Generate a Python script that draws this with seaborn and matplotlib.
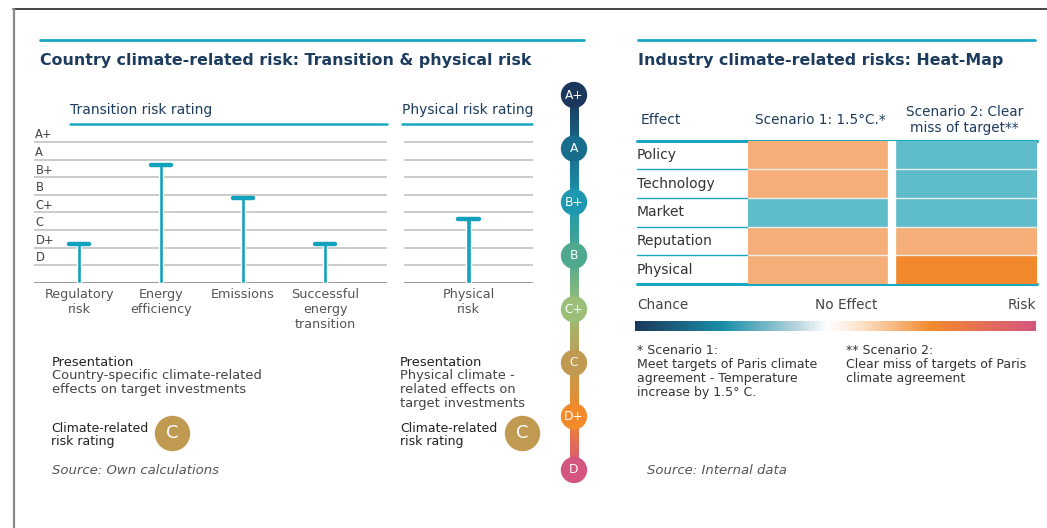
import numpy as np
import pandas as pd
import matplotlib
matplotlib.use("Agg")
import matplotlib.pyplot as plt
from matplotlib.colors import ListedColormap, BoundaryNorm, LinearSegmentedColormap, Normalize
from matplotlib.cm import ScalarMappable
import seaborn as sns

# data
ratings = ["D", "D+", "C", "C+", "B", "B+", "A", "A+"]  # low -> high
rating_colors = ["#d4557f", "#f28a2c", "#c19a52", "#9bbf78", "#4ea98e", "#1e97b0", "#186c8c", "#1b385c"]

transition_factors = ["Regulatory\nrisk", "Energy\nefficiency", "Emissions", "Successful\nenergy\ntransition"]
transition_scores = [2.2, 6.7, 4.85, 2.2]  # in rating steps above baseline

physical_factors = ["Physical\nrisk"]
physical_scores = [3.65]

effects = ["Policy", "Technology", "Market", "Reputation", "Physical"]
scenarios = ["Scenario 1: 1.5°C.*", "Scenario 2: Clear\nmiss of target**"]
scenario1_effect = [1, 1, -1, 1, 1]   # -1 chance, 1 risk, 2 high risk
scenario2_effect = [-1, -1, -1, 1, 2]

# styling
W, H = 1047, 528
navy = "#1d3c5e"
teal_line = "#19a7c3"
bar_teal = "#13a2bd"
txt = "#333333"

sns.set_theme(style="white")
plt.rcParams["font.family"] = ["DejaVu Sans"]

fig = plt.figure(figsize=(W / 100, H / 100), dpi=100)


def ax_at(x0, y0, x1, y1):
    return fig.add_axes([x0 / W, 1 - y1 / H, (x1 - x0) / W, (y1 - y0) / H])


# overlay in pixel coords for frame, rules and free text
bg = fig.add_axes([0, 0, 1, 1], zorder=0)
bg.set_xlim(0, W)
bg.set_ylim(H, 0)
bg.axis("off")
bg.patch.set_alpha(0)

bg.plot([13, W], [9, 9], color="#222222", lw=1.2)
bg.plot([14, 14], [9, H], color="#8a8a8a", lw=1.6)

bg.plot([40, 584], [40, 40], color=teal_line, lw=2)
bg.plot([638, 1035], [40, 40], color=teal_line, lw=2)
bg.text(40, 61, "Country climate-related risk: Transition & physical risk", fontsize=11.4,
        fontweight="bold", color=navy, va="center")
bg.text(638, 61, "Industry climate-related risks: Heat-Map", fontsize=11.4,
        fontweight="bold", color=navy, va="center")

bg.text(70, 110, "Transition risk rating", fontsize=10, color=navy, va="center")
bg.plot([70, 387], [124, 124], color=teal_line, lw=1.8)
bg.text(402, 110, "Physical risk rating", fontsize=10, color=navy, va="center")
bg.plot([402, 532], [123.5, 123.5], color=teal_line, lw=1.8)


def rating_panel(ax, labels, scores, xlim, stem_w, cap_half, show_y):
    ax.patch.set_alpha(0)
    for lv in range(1, 9):
        ax.axhline(lv, color="#bdbdbd", lw=1.1, zorder=1)
    ax.axhline(0, color="#9a9a9a", lw=1.4, zorder=1)
    sns.barplot(x=labels, y=scores, width=stem_w, color=bar_teal, saturation=1, ax=ax, zorder=2)
    for i, v in enumerate(scores):
        ax.plot([i - cap_half, i + cap_half], [v, v], color=bar_teal, lw=3.2,
                solid_capstyle="round", zorder=3)
    ax.set_xlim(*xlim)
    ax.set_ylim(0, 9)
    ax.set_xlabel("")
    ax.set_ylabel("")
    sns.despine(ax=ax, left=True, bottom=True)
    ax.tick_params(axis="x", length=0, pad=4, labelsize=9.2, labelcolor="#555555")
    if show_y:
        ax.set_yticks(np.arange(len(ratings)) + 1.5, ratings)
        for lab in ax.get_yticklabels():
            lab.set_horizontalalignment("left")
        ax.tick_params(axis="y", length=0, pad=-1, labelsize=8.3, labelcolor="#444444")
    else:
        ax.set_yticks([])


ax1 = ax_at(34, 124.7, 387, 282.7)
rating_panel(ax1, transition_factors, transition_scores, (-0.549, 3.756), 0.037, 0.12, True)

ax2 = ax_at(404, 124.7, 533, 282.7)
rating_panel(ax2, physical_factors, physical_scores, (-0.5, 0.5), 0.045, 0.08, False)

# rating scale
ax4 = ax_at(550, 70, 598, 495)
ax4.patch.set_alpha(0)
scale_cmap = LinearSegmentedColormap.from_list("scale", rating_colors)
ax4.imshow(np.linspace(0, 1, 256).reshape(-1, 1), cmap=scale_cmap, origin="lower",
           extent=[-0.17, 0.17, 0, len(ratings) - 1], aspect="auto", zorder=1)
scale_df = pd.DataFrame({"x": 0, "level": range(len(ratings)), "rating": ratings})
sns.scatterplot(data=scale_df, x="x", y="level", hue="rating", palette=dict(zip(ratings, rating_colors)),
                s=360, linewidth=0, legend=False, ax=ax4, zorder=3)
for i, r in enumerate(ratings):
    ax4.text(0, i, r, color="white", fontsize=8.8, ha="center", va="center", zorder=4)
ax4.set_xlim(-1, 1)
ax4.set_ylim(-0.467, 7.467)
ax4.axis("off")

# heat-map
heat = pd.DataFrame({scenarios[0]: scenario1_effect, scenarios[1]: scenario2_effect}, index=effects)
heat_cmap = ListedColormap(["#5ebccb", "#f5ae77", "#f2882c"])
heat_norm = BoundaryNorm([-1.5, 0, 1.5, 2.5], heat_cmap.N)
ax3 = ax_at(748, 140.7, 1036.7, 284)
sns.heatmap(heat, cmap=heat_cmap, norm=heat_norm, cbar=False, ax=ax3, linewidths=0)
for r in range(1, len(effects)):
    ax3.axhline(r, color="#ececec", lw=1)
ax3.axvline(1, color="white", lw=6)
ax3.xaxis.tick_top()
ax3.tick_params(axis="x", length=0, pad=15, labelsize=9.8, labelcolor=navy)
for lab in ax3.get_xticklabels():
    lab.set_verticalalignment("center")
    lab.set_rotation(0)
ax3.tick_params(axis="y", length=0, pad=80, labelsize=10, labelcolor=txt)
for lab in ax3.get_yticklabels():
    lab.set_horizontalalignment("left")
    lab.set_rotation(0)
ax3.set_xlabel("")
ax3.set_ylabel("")

bg.text(641, 120, "Effect", fontsize=10, color=navy, va="center")
row_h = (284 - 140.7) / len(effects)
for r in range(1, len(effects)):
    bg.plot([637, 748], [140.7 + r * row_h] * 2, color=teal_line, lw=1)
bg.plot([637, 1036.7], [140.7, 140.7], color=teal_line, lw=2.2)
bg.plot([637, 1036.7], [284, 284], color=teal_line, lw=2.2)

# effect gradient legend
bg.text(637, 305, "Chance", fontsize=9.8, color="#444444", va="center")
bg.text(846, 305, "No Effect", fontsize=9.8, color="#444444", va="center", ha="center")
bg.text(1036, 305, "Risk", fontsize=9.8, color="#444444", va="center", ha="right")
effect_cmap = LinearSegmentedColormap.from_list(
    "effect", [(0, "#1b385c"), (0.22, "#1a8ea8"), (0.40, "#b5d3dc"), (0.48, "#ffffff"),
               (0.56, "#fde3cd"), (0.74, "#f28a2c"), (1, "#d4557f")])
cax = ax_at(635, 321, 1036, 331)
cb = fig.colorbar(ScalarMappable(norm=Normalize(-1, 1), cmap=effect_cmap), cax=cax, orientation="horizontal")
cb.outline.set_visible(False)
cb.set_ticks([])


def text_lines(x, y0, lines, step=13.8, **kw):
    for k, line in enumerate(lines):
        bg.text(x, y0 + k * step, line, va="center", **kw)


text_lines(637, 351, ["* Scenario 1:", "Meet targets of Paris climate", "agreement - Temperature",
                      "increase by 1.5° C."], fontsize=9, color=txt)
text_lines(846, 351, ["** Scenario 2:", "Clear miss of targets of Paris", "climate agreement"],
           fontsize=9, color=txt)
bg.text(647, 470, "Source: Internal data", fontsize=9.5, style="italic", color="#555555", va="center")

# presentation notes
text_lines(52, 362, ["Presentation"], fontsize=9.4, color="#222222", fontweight="medium")
text_lines(52, 375.8, ["Country-specific climate-related", "effects on target investments"],
           fontsize=9.4, color="#444444")
text_lines(51, 428, ["Climate-related", "risk rating"], fontsize=9, color="#222222")
bg.text(52, 470, "Source: Own calculations", fontsize=9.5, style="italic", color="#555555", va="center")

text_lines(400, 362, ["Presentation"], fontsize=9.4, color="#222222", fontweight="medium")
text_lines(400, 375.8, ["Physical climate -", "related effects on", "target investments"],
           fontsize=9.4, color="#444444")
text_lines(400, 428, ["Climate-related", "risk rating"], fontsize=9, color="#222222")

for cx in (172, 522):
    bg.scatter([cx], [433], s=650, color=rating_colors[2], linewidth=0, zorder=3)
    bg.text(cx, 433, "C", color="white", fontsize=13, ha="center", va="center", zorder=4)

fig.savefig("out.png", dpi=100)
